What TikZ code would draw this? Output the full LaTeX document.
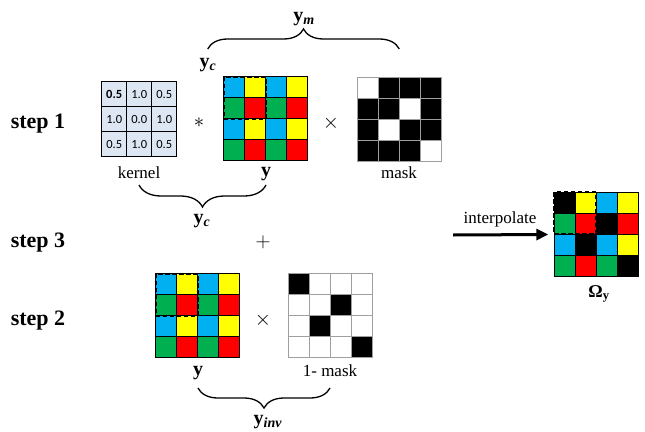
\documentclass[tikz,border=0pt]{standalone}
\usepackage{fontspec}
\setmainfont{Liberation Serif}
\newfontfamily\kernfont{Carlito}
\usetikzlibrary{positioning,calc,arrows.meta,decorations.pathreplacing}
\definecolor{cblue}{HTML}{00B0F0}
\definecolor{cyell}{HTML}{FFFF00}
\definecolor{cgreen}{HTML}{00B050}
\definecolor{cred}{HTML}{FF0000}
\definecolor{kbg}{HTML}{DDE7F3}
\newcommand{\vy}[1]{\textbf{y}\textsubscript{\textbf{\textit{#1}}}}
\newcommand{\cellgrid}[4]{%
  \foreach \f [count=\k from 0] in {#4}{
    \pgfmathtruncatemacro{\gr}{\k/4}
    \pgfmathtruncatemacro{\gc}{\k-4*\gr}
    \draw[#3,fill=\f] ($(#1.north west)+(\gc*#2,\gr*#2)$) rectangle ++(#2,#2);
  }}

\begin{document}
\begin{tikzpicture}[
  x=1pt,y=-1pt,
  gridbox/.style={inner sep=0pt,minimum size=84pt},
  ccell/.style={draw=black,line width=0.7pt},
  mcell/.style={draw=gray!75,line width=1.3pt},
  kcell/.style={draw=black,line width=0.7pt,fill=kbg,minimum size=25pt,inner sep=0pt,font=\kernfont\fontsize{12.5}{12.5}\selectfont},
  sel/.style={dash pattern=on 4.5pt off 2.5pt,line width=1.7pt},
  lbl/.style={anchor=base,font=\fontsize{17}{17}\selectfont},
  var/.style={anchor=base,font=\fontsize{20}{20}\selectfont},
  steplbl/.style={anchor=base,font=\fontsize{22}{22}\selectfont\bfseries},
  op/.style={font=\fontsize{20}{20}\selectfont},
  brc/.style={decorate,decoration={brace,amplitude=#1},line width=1.3pt},
  ar/.style={-{Triangle[length=12pt,width=11pt]},line width=3pt}
]
\useasboundingbox (0,0) rectangle (645,431);

% step labels
\node[steplbl] (s1) at (38,128) {step 1};
\node[steplbl] (s3) at (38,247) {step 3};
\node[steplbl] (s2) at (38,325) {step 2};

% step 1: kernel * y x mask
\foreach \v [count=\k from 0] in {\textbf{0.5},1.0,0.5,1.0,0.0,1.0,0.5,1.0,0.5}{
  \pgfmathtruncatemacro{\gr}{\k/3}
  \pgfmathtruncatemacro{\gc}{\k-3*\gr}
  \node[kcell] (k\k) at (114.2+\gc*25,94.2+\gr*25) {\v};
}
\node[op] (conv) at (199,123) {$\ast$};
\node[gridbox] (ya) at (266,119) {};
\cellgrid{ya}{21}{ccell}{cblue,cyell,cblue,cyell,cgreen,cred,cgreen,cred,cblue,cyell,cblue,cyell,cgreen,cred,cgreen,cred}
\draw[sel] (ya.north west) rectangle ++(42,42);
\node[op] (mul1) at (331,123) {$\times$};
\node[gridbox] (mk) at (399.5,119.5) {};
\cellgrid{mk}{21}{mcell}{white,black,black,black,black,black,white,black,black,white,black,black,black,black,black,white}

\node[lbl] (lkern) at (139,178) {kernel};
\node[var] (lya) at (266,176) {\textbf{y}};
\node[lbl] (lmask) at (399,178) {mask};

\draw[brc=20] (207.7,49) -- (399.3,49);
\node[var] (ym) at (304,21) {\vy{m}};
\node[var] (yc1) at (208,67) {\vy{c}};

\draw[brc=22] (266,185) -- (139,185);
\node[var] (yc2) at (202,223) {\vy{c}};

% step 3
\node[op] (plus) at (263,242) {$+$};

% step 2: y x (1 - mask)
\node[gridbox] (yb) at (198,316) {};
\cellgrid{yb}{21}{ccell}{cblue,cyell,cblue,cyell,cgreen,cred,cgreen,cred,cblue,cyell,cblue,cyell,cgreen,cred,cgreen,cred}
\draw[sel] (yb.north west) rectangle ++(42,42);
\node[op] (mul2) at (263,320) {$\times$};
\node[gridbox] (imk) at (331,316) {};
\cellgrid{imk}{21}{mcell}{black,white,white,white,white,white,black,white,white,black,white,white,white,white,white,black}

\node[var] (lyb) at (198,375) {\textbf{y}};
\node[lbl] (limk) at (330,376) {1- mask};

\draw[brc=20] (330,388) -- (198,388);
\node[var] (yinv) at (268,424) {\vy{inv}};

% result
\node[gridbox] (om) at (596.5,234.5) {};
\cellgrid{om}{21}{ccell}{black,cyell,cblue,cyell,cgreen,cred,black,cred,cblue,black,cblue,cyell,cgreen,cred,cgreen,black}
\draw[sel] (om.north west) rectangle ++(42,42);
\node[var,font=\fontsize{18}{18}\selectfont] (lom) at (599,297) {\textbf{Ω}\textsubscript{\textbf{y}}};

\coordinate (ipstart) at (453,235);
\draw[ar] (ipstart) -- ([xshift=-6pt]om.west);
\node[lbl] (lip) at (500,223) {interpolate};
\end{tikzpicture}
\end{document}
